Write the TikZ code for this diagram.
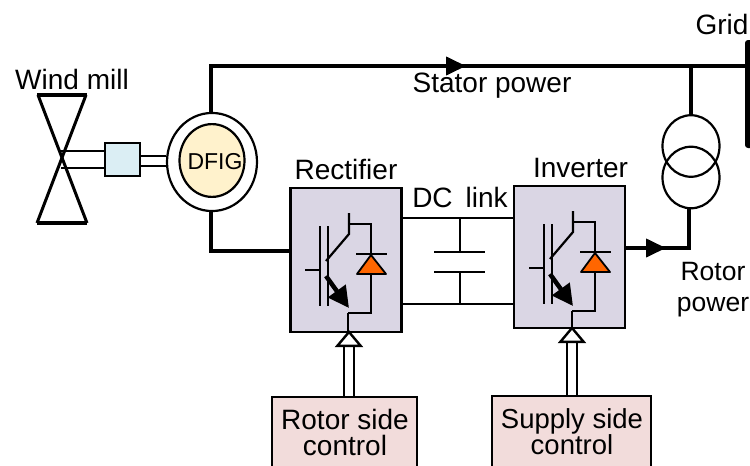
\documentclass[tikz,border=0pt]{standalone}
\usepackage{fontspec}
\setmainfont{Liberation Sans}
\usepackage{tikz}
\usetikzlibrary{positioning,arrows.meta}
\definecolor{bladeblue}{HTML}{DBEEF4}
\definecolor{dfigyellow}{HTML}{FFF2CC}
\definecolor{convgray}{HTML}{DAD6E4}
\definecolor{ctrlpink}{HTML}{F2DCDB}
\definecolor{diodeorange}{HTML}{FF6600}
\tikzset{
  txt/.style={inner sep=0pt, font=\fontsize{28}{31}\selectfont, align=center},
  power/.style={line width=4pt},
  thin line/.style={line width=2.2pt},
  converter/.style={draw, line width=2.2pt, fill=convgray, minimum width=111pt, inner sep=0pt},
  ctrlbox/.style={draw, line width=2.2pt, fill=ctrlpink, inner sep=0pt},
  hollow/.style={line width=2.4pt, double=white, double distance=8pt, shorten >=-3pt,
    -{Triangle[open, fill=white, length=17pt, width=28pt, line width=2.4pt]}},
  powertip/.style={-{Triangle[length=20pt, width=18pt]}},
  igbt/.pic={
    % switch
    \draw[thin line] (-43,0) -- (-28,0);
    \draw[thin line] (-28,-44) -- (-28,36);
    \draw[thin line] (-20,-44) -- (-20,36);
    \draw[thin line] (-22,-9) -- (1,-36) -- (1,-57);
    \draw[line width=4.5pt, -{Triangle[length=21pt, width=21pt]}] (-22,6) -- (1,38);
    % diode
    \draw[thin line] (1,-46) -- (23,-46) -- (23,-16);
    \draw[thin line] (23,4) -- (23,43) -- (0,43);
    \draw[thin line] (8,-16) -- (39,-16);
    \draw[line width=1.8pt, fill=diodeorange, line join=round] (23,-15) -- (38,4) -- (9,4) -- cycle;
  }
}
\begin{document}
\begin{tikzpicture}[x=1pt,y=-1pt]
\useasboundingbox (0,0) rectangle (750,466);
\clip (0,0) rectangle (750,466);
% nodes
\node[draw, line width=2.2pt, fill=bladeblue, minimum width=35pt, minimum height=33pt, inner sep=0pt] (gearbox) at (122.5,159.5) {};
\node[draw, circle, line width=2.2pt, fill=white, minimum width=90pt, inner sep=0pt, yscale=1.09] (stator) at (212,162) {};
\node[draw, circle, line width=2.2pt, fill=dfigyellow, minimum width=65pt, inner sep=0pt, yscale=1.12] (rotor) at (212,160.5) {};
\node[inner sep=0pt, font=\fontsize{23}{25}\selectfont] (dfig) at (215,162) {DFIG};
\node[converter, minimum height=144pt] (rectifier) at (346,260) {};
\node[converter, minimum height=142pt] (inverter) at (569.5,257) {};
\node[ctrlbox, minimum width=145pt, minimum height=80pt] (rotorctrl) at (344.5,437) {};
\node[ctrlbox, minimum width=159pt, minimum height=80pt] (supplyctrl) at (571.5,436) {};
\node[txt, font=\fontsize{28}{27}\selectfont] (rotortxt) at (345,432) {Rotor side\\[-1pt]control};
\node[txt, font=\fontsize{27.5}{27}\selectfont] (supplytxt) at (572,432) {Supply side\\[-1pt]control};
\node[draw, circle, line width=2.2pt, minimum width=57pt, inner sep=0pt, yscale=1.08] (tropper) at (691,146) {};
\node[draw, circle, line width=2.2pt, minimum width=57pt, inner sep=0pt, yscale=1.08] (trlower) at (691,177.5) {};
\node[fill=black, rounded corners=3pt, minimum width=14pt, minimum height=108pt, inner sep=0pt] (grid) at (752,94) {};

\node[txt] (windlbl) at (72,79) {Wind mill};
\node[txt] (statorlbl) at (492,86) {Stator power};
\node[txt] (gridlbl) at (722,24) {Grid};
\node[txt, above=7pt of rectifier] (rectlbl) {Rectifier};
\node[txt, above=7pt of inverter, xshift=11pt] (invlbl) {Inverter};
\node[txt] (dclbl) at (460,197) {DC\hspace{13pt}link};
\node[txt, font=\fontsize{26.5}{31}\selectfont] (rotorlbl) at (713,290) {Rotor\\power};

% coordinates
\coordinate (hub) at (61,160);
\coordinate (sttop) at (211,66);
\coordinate (statortip) at (466,66);
\coordinate (gridtap) at (691,66);
\coordinate (rotorin) at (290,251);
\coordinate (invout) at (625,248);
\coordinate (rotortip) at (666,248);
\coordinate (rotorbend) at (689,248);
\coordinate (capl) at (460,252);
\coordinate (capr) at (460,272);

% wind mill
\draw[line width=3pt] (38,95) -- (87,223);
\draw[line width=3pt] (86,95) -- (37,223);
\draw[line width=4.5pt] (37,95) -- (87,95);
\draw[line width=4.5pt] (37,223) -- (87,223);

% edges
\draw[thin line] (hub |- 0,151) -- (gearbox.west |- 0,151);
\draw[thin line] (hub |- 0,168) -- (gearbox.west |- 0,168);
\draw[thin line] (gearbox.east |- 0,156) -- (stator.west |- 0,156);
\draw[thin line] (gearbox.east |- 0,166) -- (stator.west |- 0,166);

\draw[power] (stator.north -| sttop) |- (grid.west |- sttop);
\draw[power, powertip] (sttop) -- (statortip);
\draw[power] (stator.south -| sttop) |- (rotorin);
\draw[power] (gridtap) -- (tropper.north);
\draw[power, powertip] (invout) -- (rotortip);
\draw[power] (invout) -- (rotorbend) -- (trlower.south -| rotorbend);

% dc link
\draw[thin line] (rectifier.east |- 0,218) -- (inverter.west |- 0,218);
\draw[thin line] (rectifier.east |- 0,304) -- (inverter.west |- 0,304);
\draw[thin line] (capl |- 0,218) -- (capl);
\draw[thin line] (capr) -- (capr |- 0,304);
\draw[thin line] (434,252) -- (485,252);
\draw[thin line] (434,272) -- (485,272);

% switches
\pic at (348,270) {igbt};
\pic at (572,268) {igbt};
\draw[thin line] (348,313) -- (rectifier.south -| 348,0);
\draw[thin line] (572,311) -- (inverter.south -| 572,0);

% control
\draw[hollow] (rotorctrl.north -| 349,0) -- (rectifier.south -| 349,0);
\draw[hollow] (supplyctrl.north -| 572,0) -- (inverter.south -| 572,0);
\end{tikzpicture}
\end{document}
